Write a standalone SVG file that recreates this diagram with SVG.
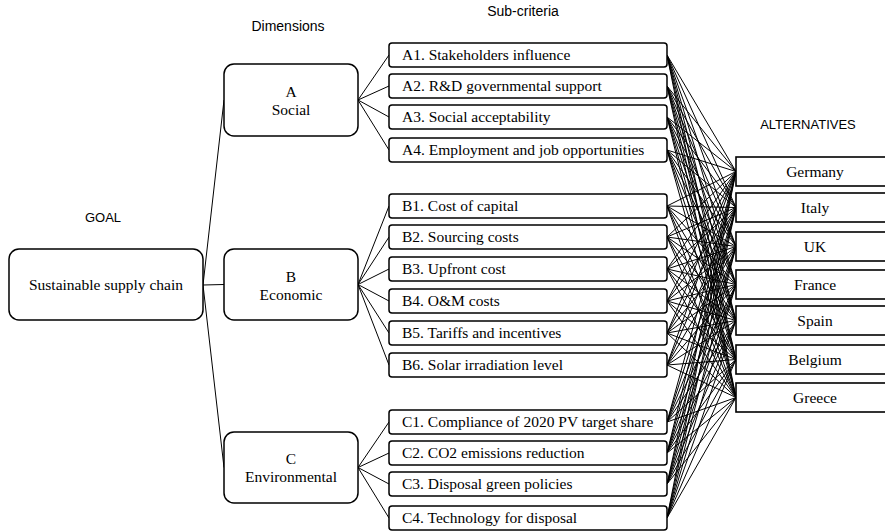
<svg xmlns="http://www.w3.org/2000/svg" width="885" height="531" viewBox="0 0 885 531">
<style>
.hdr{font-family:"Liberation Sans",Arial,sans-serif;font-size:14px;fill:#000;text-anchor:middle}
.cap{font-size:13px}
.t{font-family:"Liberation Serif","Times New Roman",Times,serif;font-size:15.5px;fill:#000}
.c{text-anchor:middle}
.rb{fill:#fff;stroke:#000;stroke-width:1.5}
.alt{fill:#fff;stroke:#000;stroke-width:1.6}
.ln{fill:none;stroke:#000;stroke-width:1}
</style>
<rect width="885" height="531" fill="#fff"/>
<text class="hdr" x="288" y="31">Dimensions</text>
<text class="hdr" x="523" y="16">Sub-criteria</text>
<text class="hdr cap" x="103" y="222">GOAL</text>
<text class="hdr cap" x="808" y="129">ALTERNATIVES</text>
<g id="connectors">
<path class="ln" d="M203 285L224 284.5M203 285L224 100M203 285L224 467.5"/>
<path class="ln" d="M358 100L389 55M358 100L389 86M358 100L389 117M358 100L389 150"/>
<path class="ln" d="M358 284.5L389 206M358 284.5L389 237M358 284.5L389 269M358 284.5L389 301M358 284.5L389 333M358 284.5L389 365"/>
<path class="ln" d="M358 467.5L389 422M358 467.5L389 453M358 467.5L389 484M358 467.5L389 518"/>
<path class="ln" d="M667 55L736 171.5M667 55L736 207.5M667 55L736 246.5M667 55L736 284.5M667 55L736 320.5M667 55L736 359.5M667 55L736 397.5"/>
<path class="ln" d="M667 86L736 171.5M667 86L736 207.5M667 86L736 246.5M667 86L736 284.5M667 86L736 320.5M667 86L736 359.5M667 86L736 397.5"/>
<path class="ln" d="M667 117L736 171.5M667 117L736 207.5M667 117L736 246.5M667 117L736 284.5M667 117L736 320.5M667 117L736 359.5M667 117L736 397.5"/>
<path class="ln" d="M667 150L736 171.5M667 150L736 207.5M667 150L736 246.5M667 150L736 284.5M667 150L736 320.5M667 150L736 359.5M667 150L736 397.5"/>
<path class="ln" d="M667 206L736 171.5M667 206L736 207.5M667 206L736 246.5M667 206L736 284.5M667 206L736 320.5M667 206L736 359.5M667 206L736 397.5"/>
<path class="ln" d="M667 237L736 171.5M667 237L736 207.5M667 237L736 246.5M667 237L736 284.5M667 237L736 320.5M667 237L736 359.5M667 237L736 397.5"/>
<path class="ln" d="M667 269L736 171.5M667 269L736 207.5M667 269L736 246.5M667 269L736 284.5M667 269L736 320.5M667 269L736 359.5M667 269L736 397.5"/>
<path class="ln" d="M667 301L736 171.5M667 301L736 207.5M667 301L736 246.5M667 301L736 284.5M667 301L736 320.5M667 301L736 359.5M667 301L736 397.5"/>
<path class="ln" d="M667 333L736 171.5M667 333L736 207.5M667 333L736 246.5M667 333L736 284.5M667 333L736 320.5M667 333L736 359.5M667 333L736 397.5"/>
<path class="ln" d="M667 365L736 171.5M667 365L736 207.5M667 365L736 246.5M667 365L736 284.5M667 365L736 320.5M667 365L736 359.5M667 365L736 397.5"/>
<path class="ln" d="M667 422L736 171.5M667 422L736 207.5M667 422L736 246.5M667 422L736 284.5M667 422L736 320.5M667 422L736 359.5M667 422L736 397.5"/>
<path class="ln" d="M667 453L736 171.5M667 453L736 207.5M667 453L736 246.5M667 453L736 284.5M667 453L736 320.5M667 453L736 359.5M667 453L736 397.5"/>
<path class="ln" d="M667 484L736 171.5M667 484L736 207.5M667 484L736 246.5M667 484L736 284.5M667 484L736 320.5M667 484L736 359.5M667 484L736 397.5"/>
<path class="ln" d="M667 518L736 171.5M667 518L736 207.5M667 518L736 246.5M667 518L736 284.5M667 518L736 320.5M667 518L736 359.5M667 518L736 397.5"/>
</g>
<g id="goal"><rect class="rb" x="9" y="249" width="194" height="71" rx="10"/><text class="t c" x="106" y="290">Sustainable supply chain</text></g>
<g id="dimA"><rect class="rb" x="224" y="64" width="134" height="72" rx="10"/><text class="t c" x="291" y="97">A</text><text class="t c" x="291" y="115">Social</text></g>
<g id="dimB"><rect class="rb" x="224" y="249" width="134" height="71" rx="10"/><text class="t c" x="291" y="282">B</text><text class="t c" x="291" y="300">Economic</text></g>
<g id="dimC"><rect class="rb" x="224" y="432" width="134" height="71" rx="10"/><text class="t c" x="291" y="464">C</text><text class="t c" x="291" y="482">Environmental</text></g>
<g id="A1"><rect class="rb" x="389" y="43" width="278" height="24" rx="3"/><text class="t" x="402" y="60">A1. Stakeholders influence</text></g>
<g id="A2"><rect class="rb" x="389" y="74" width="278" height="24" rx="3"/><text class="t" x="402" y="91">A2. R&amp;D governmental support</text></g>
<g id="A3"><rect class="rb" x="389" y="105" width="278" height="24" rx="3"/><text class="t" x="402" y="122">A3. Social acceptability</text></g>
<g id="A4"><rect class="rb" x="389" y="138" width="278" height="24" rx="3"/><text class="t" x="402" y="155">A4. Employment and job opportunities</text></g>
<g id="B1"><rect class="rb" x="389" y="194" width="278" height="24" rx="3"/><text class="t" x="402" y="211">B1. Cost of capital</text></g>
<g id="B2"><rect class="rb" x="389" y="225" width="278" height="24" rx="3"/><text class="t" x="402" y="242">B2. Sourcing costs</text></g>
<g id="B3"><rect class="rb" x="389" y="257" width="278" height="24" rx="3"/><text class="t" x="402" y="274">B3. Upfront cost</text></g>
<g id="B4"><rect class="rb" x="389" y="289" width="278" height="24" rx="3"/><text class="t" x="402" y="306">B4. O&amp;M costs</text></g>
<g id="B5"><rect class="rb" x="389" y="321" width="278" height="24" rx="3"/><text class="t" x="402" y="338">B5. Tariffs and incentives</text></g>
<g id="B6"><rect class="rb" x="389" y="353" width="278" height="24" rx="3"/><text class="t" x="402" y="370">B6. Solar irradiation level</text></g>
<g id="C1"><rect class="rb" x="389" y="410" width="278" height="24" rx="3"/><text class="t" x="402" y="427">C1. Compliance of 2020 PV target share</text></g>
<g id="C2"><rect class="rb" x="389" y="441" width="278" height="24" rx="3"/><text class="t" x="402" y="458">C2. CO2 emissions reduction</text></g>
<g id="C3"><rect class="rb" x="389" y="472" width="278" height="24" rx="3"/><text class="t" x="402" y="489">C3. Disposal green policies</text></g>
<g id="C4"><rect class="rb" x="389" y="506" width="278" height="24" rx="3"/><text class="t" x="402" y="523">C4. Technology for disposal</text></g>
<g id="germany"><rect class="alt" x="736" y="157" width="158" height="29"/><text class="t c" x="815" y="177">Germany</text></g>
<g id="italy"><rect class="alt" x="736" y="193" width="158" height="29"/><text class="t c" x="815" y="213">Italy</text></g>
<g id="uk"><rect class="alt" x="736" y="232" width="158" height="29"/><text class="t c" x="815" y="252">UK</text></g>
<g id="france"><rect class="alt" x="736" y="270" width="158" height="29"/><text class="t c" x="815" y="290">France</text></g>
<g id="spain"><rect class="alt" x="736" y="306" width="158" height="29"/><text class="t c" x="815" y="326">Spain</text></g>
<g id="belgium"><rect class="alt" x="736" y="345" width="158" height="29"/><text class="t c" x="815" y="365">Belgium</text></g>
<g id="greece"><rect class="alt" x="736" y="383" width="158" height="29"/><text class="t c" x="815" y="403">Greece</text></g>
</svg>
